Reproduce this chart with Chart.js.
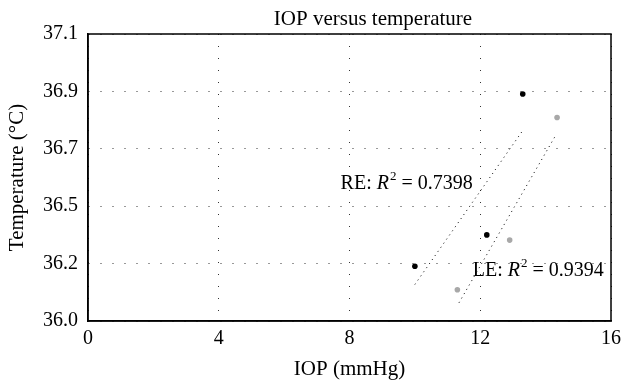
<!DOCTYPE html>
<html>
<head>
<meta charset="utf-8">
<script src="https://cdn.jsdelivr.net/npm/chart.js@4.4.0/dist/chart.umd.min.js"></script>
<style>
  body { margin: 0; background: #fff; }
  #wrap { width: 627px; height: 385px; }
</style>
</head>
<body>
<div id="wrap"><canvas id="myChart" width="627" height="385"></canvas></div>
<script>
// dati
const reIop = [10.0, 12.2, 13.3];
const reTemp = [36.21, 36.33, 36.87];
const leIop = [11.3, 12.9, 14.35];
const leTemp = [36.12, 36.31, 36.78];

// rette di tendenza (estremi)
const reFitIop = [10.0, 13.3];
const reFitTemp = [36.14, 36.73];
const leFitIop = [11.35, 14.3];
const leFitTemp = [36.07, 36.71];

const xTicks = [0, 4, 8, 12, 16];
const yTicks = [36.0, 36.22, 36.44, 36.66, 36.88, 37.1];
const yTickLabels = ["36.0", "36.2", "36.5", "36.7", "36.9", "37.1"];

const reLabel = { x: 11.77, y: 36.506, r2: "0.7398", name: "RE" };
const leLabel = { x: 11.77, y: 36.172, r2: "0.9394", name: "LE" };

const chartTitle = 'IOP versus temperature';

const FONT = "'Liberation Serif', 'DejaVu Serif', serif";

function pts(xs, ys) {
  return xs.map((x, i) => ({ x: x, y: ys[i] }));
}

// riquadro attorno all'area del grafico + titolo
const boxPlugin = {
  id: 'box',
  afterDraw(chart) {
    const a = chart.chartArea;
    const ctx = chart.ctx;
    ctx.save();
    ctx.strokeStyle = '#000';
    ctx.lineWidth = 1.5;
    ctx.strokeRect(a.left, a.top, a.right - a.left, a.bottom - a.top);
    // titolo (nell'originale e' spostato a destra)
    ctx.fillStyle = '#000';
    ctx.font = "21px " + FONT;
    ctx.textAlign = 'center';
    ctx.textBaseline = 'alphabetic';
    ctx.fillText(chartTitle, 373, 25);
    ctx.restore();
  }
};

// scritte R^2
function drawR2(ctx, lbl, x, y, alignRight) {
  const p1 = lbl.name + ": ";
  const p3 = " = " + lbl.r2;
  ctx.font = "20px " + FONT;
  const w1 = ctx.measureText(p1).width;
  const w3 = ctx.measureText(p3).width;
  ctx.font = "italic 20px " + FONT;
  const w2 = ctx.measureText("R").width;
  ctx.font = "13px " + FONT;
  const wSup = ctx.measureText("2").width + 1;
  const total = w1 + w2 + wSup + w3;
  let sx = alignRight ? x - total : x;
  ctx.fillStyle = '#000';
  ctx.textBaseline = 'alphabetic';
  ctx.textAlign = 'left';
  ctx.font = "20px " + FONT;
  ctx.fillText(p1, sx, y); sx += w1;
  ctx.font = "italic 20px " + FONT;
  ctx.fillText("R", sx, y); sx += w2;
  ctx.font = "13px " + FONT;
  ctx.fillText("2", sx + 1, y - 9); sx += wSup;
  ctx.font = "20px " + FONT;
  ctx.fillText(p3, sx, y);
}

const labelPlugin = {
  id: 'r2labels',
  afterDatasetsDraw(chart) {
    const xs = chart.scales.x, ys = chart.scales.y;
    const ctx = chart.ctx;
    ctx.save();
    drawR2(ctx, reLabel, xs.getPixelForValue(reLabel.x), ys.getPixelForValue(reLabel.y), true);
    drawR2(ctx, leLabel, xs.getPixelForValue(leLabel.x), ys.getPixelForValue(leLabel.y), false);
    ctx.restore();
  }
};

let ctx = document.getElementById("myChart").getContext("2d");
let myChart = new Chart(ctx, {
  type: 'scatter',
  data: {
    datasets: [
      {
        label: 'RE fit',
        data: pts(reFitIop, reFitTemp),
        showLine: true,
        borderColor: '#000',
        borderWidth: 1,
        borderDash: [1, 4],
        pointRadius: 0
      },
      {
        label: 'LE fit',
        data: pts(leFitIop, leFitTemp),
        showLine: true,
        borderColor: '#000',
        borderWidth: 1,
        borderDash: [1, 4],
        pointRadius: 0
      },
      {
        label: 'RE',
        data: pts(reIop, reTemp),
        backgroundColor: '#000',
        borderColor: '#000',
        pointRadius: 2.8,
        borderWidth: 0
      },
      {
        label: 'LE',
        data: pts(leIop, leTemp),
        backgroundColor: '#a8a8a8',
        borderColor: '#a8a8a8',
        pointRadius: 2.8,
        borderWidth: 0
      }
    ]
  },
  options: {
    responsive: false,
    animation: false,
    layout: { padding: { top: 34, right: 0, bottom: 0, left: 0 } },
    plugins: {
      legend: { display: false },
      tooltip: { enabled: false },
      title: { display: false }
    },
    scales: {
      x: {
        type: 'linear',
        min: 0,
        max: 16,
        afterBuildTicks(scale) { scale.ticks = xTicks.map(v => ({ value: v })); },
        afterFit(scale) { scale.height = 64; },
        ticks: {
          color: '#000',
          padding: 6,
          maxRotation: 0,
          font: { family: FONT, size: 20 }
        },
        grid: { color: '#333', lineWidth: 1, drawTicks: false },
        border: { display: true, color: '#000', width: 1.5, dash: [1, 11] },
        title: {
          display: true,
          text: 'IOP (mmHg)',
          color: '#000',
          font: { family: FONT, size: 21, lineHeight: 1.2 },
          padding: { top: 0, bottom: 3 }
        }
      },
      y: {
        type: 'linear',
        min: 36.0,
        max: 37.1,
        afterBuildTicks(scale) { scale.ticks = yTicks.map(v => ({ value: v })); },
        afterFit(scale) { scale.width = 88; },
        ticks: {
          color: '#000',
          padding: 10,
          font: { family: FONT, size: 20 },
          callback: function (value, index) { return yTickLabels[index]; }
        },
        grid: { color: '#333', lineWidth: 1, drawTicks: false },
        border: { display: true, color: '#000', width: 1.5, dash: [1, 11] },
        title: {
          display: true,
          text: 'Temperature (°C)',
          color: '#000',
          font: { family: FONT, size: 21, lineHeight: 1.2 },
          padding: { top: 5, bottom: 0 }
        }
      }
    }
  },
  plugins: [boxPlugin, labelPlugin]
});
</script>
</body>
</html>
